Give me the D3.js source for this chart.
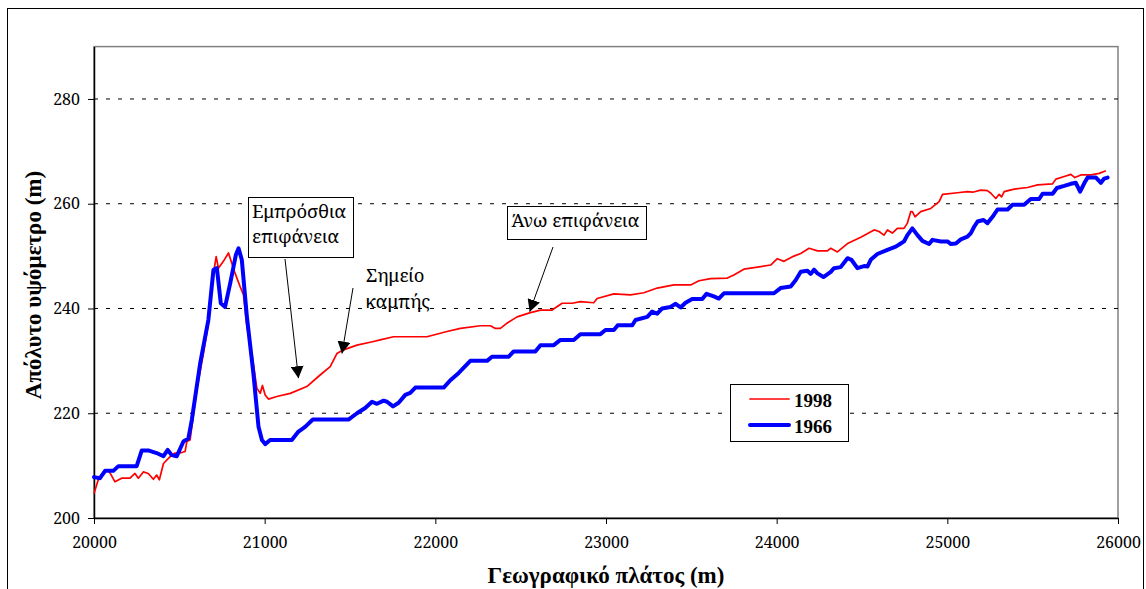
<!DOCTYPE html>
<html><head><meta charset="utf-8">
<script src="https://cdn.jsdelivr.net/npm/d3@7"></script>
<style>
body{margin:0;background:#fff;}
svg{display:block;}
</style></head>
<body><svg id="c" width="1146" height="589"></svg>
<script>
const xTicks = [20000,21000,22000,23000,24000,25000,26000];
const yTicks = [200,220,240,260,280];
const seriesNames = ["1998","1966"];
const xTitle = "Γεωγραφικό πλάτος (m)";
const yTitle = "Απόλυτο υψόμετρο (m)";

const s1998 = [[20000,204.7],[20025,207.3],[20065,209.2],[20084,209.2],[20123,206.9],[20162,207.6],[20211,207.6],[20240,208.5],[20260,207.6],[20289,208.8],[20318,208.5],[20348,207.4],[20367,208.2],[20383,207.3],[20407,210.4],[20446,211.7],[20475,212.4],[20504,212.4],[20534,212.7],[20544,214.6],[20563,214.9],[20602,224.4],[20641,231.4],[20670,237.2],[20690,244.8],[20716,249.9],[20729,247.7],[20758,249.0],[20788,250.6],[20798,249.6],[20827,246.7],[20856,244.2],[20876,242.6],[20896,236.5],[20925,231.4],[20954,224.8],[20974,223.8],[20987,225.3],[21003,223.5],[21022,222.7],[21071,223.2],[21150,223.8],[21247,225.1],[21325,227.3],[21384,228.9],[21423,231.4],[21462,232.1],[21541,233.0],[21638,233.7],[21677,234.0],[21755,234.6],[21951,234.6],[22068,235.6],[22147,236.2],[22264,236.7],[22323,236.7],[22352,236.2],[22381,236.2],[22420,237.2],[22479,238.4],[22557,239.2],[22616,239.7],[22684,239.7],[22743,241.0],[22802,241.0],[22850,241.3],[22928,241.1],[22948,241.9],[23046,242.8],[23144,242.6],[23222,243.0],[23300,243.9],[23398,244.5],[23496,244.5],[23545,245.3],[23613,245.7],[23711,245.8],[23749,246.4],[23808,247.5],[23887,247.9],[23965,248.3],[24004,249.5],[24043,249.0],[24101,250.0],[24141,250.5],[24190,251.5],[24239,251.0],[24297,251.0],[24317,251.5],[24356,250.8],[24415,252.4],[24493,253.6],[24571,255.0],[24600,254.7],[24629,254.0],[24649,255.0],[24678,254.4],[24707,255.3],[24746,255.3],[24766,256.3],[24786,258.5],[24795,258.5],[24811,257.5],[24844,258.5],[24903,259.1],[24952,260.4],[24972,261.8],[25059,262.1],[25118,262.3],[25148,262.2],[25196,262.6],[25235,262.5],[25255,262.0],[25284,261.0],[25304,261.8],[25318,261.3],[25333,262.3],[25392,262.8],[25470,263.1],[25529,263.6],[25617,263.8],[25636,264.7],[25685,265.2],[25724,265.6],[25747,265.0],[25783,265.5],[25841,265.5],[25890,265.8],[25929,266.3]];

const s1966 = [[20000,207.8],[20035,207.6],[20065,209.0],[20113,209.0],[20143,209.9],[20250,209.9],[20280,212.9],[20318,212.9],[20367,212.4],[20407,211.8],[20432,213.0],[20455,212.0],[20485,211.8],[20524,214.6],[20553,215.2],[20573,218.7],[20622,229.5],[20670,237.8],[20700,247.4],[20720,247.7],[20743,241.0],[20768,240.3],[20798,244.8],[20831,250.2],[20847,251.5],[20866,249.3],[20896,238.4],[20934,227.6],[20964,217.4],[20984,214.9],[21003,214.1],[21032,214.9],[21159,214.9],[21198,216.5],[21237,217.4],[21282,218.8],[21491,218.8],[21541,220.0],[21589,221.0],[21629,222.2],[21658,221.8],[21697,222.4],[21717,222.2],[21752,221.3],[21785,222.0],[21824,223.5],[21853,223.9],[21883,224.9],[22049,224.9],[22088,226.3],[22137,227.7],[22205,230.0],[22303,230.0],[22332,230.8],[22430,230.8],[22459,231.8],[22586,231.8],[22616,233.0],[22694,233.0],[22733,234.0],[22811,234.0],[22850,235.1],[22967,235.1],[22997,235.9],[23046,235.9],[23069,236.8],[23154,236.8],[23173,237.8],[23242,238.4],[23270,239.4],[23300,239.0],[23329,240.0],[23378,240.3],[23408,240.9],[23437,240.2],[23466,241.1],[23505,241.8],[23564,241.8],[23589,242.8],[23632,242.3],[23661,241.9],[23691,242.9],[23984,242.9],[24023,243.9],[24082,244.2],[24111,245.4],[24141,247.0],[24180,247.2],[24199,246.6],[24219,247.4],[24239,246.7],[24274,246.0],[24317,247.0],[24336,247.7],[24375,247.9],[24415,249.6],[24438,249.3],[24473,247.7],[24512,248.1],[24532,248.0],[24551,249.3],[24590,250.4],[24649,251.2],[24698,251.8],[24727,252.4],[24746,252.8],[24766,254.0],[24795,255.3],[24825,254.0],[24854,252.9],[24893,252.3],[24913,253.1],[24962,252.8],[25001,252.8],[25021,252.3],[25050,252.4],[25079,253.2],[25118,253.7],[25138,254.4],[25157,255.6],[25177,256.6],[25212,256.9],[25235,256.3],[25265,257.5],[25294,258.9],[25353,258.9],[25382,259.8],[25450,259.8],[25489,260.9],[25538,260.9],[25558,261.9],[25617,261.9],[25642,263.0],[25685,263.4],[25724,263.8],[25753,264.0],[25778,262.3],[25802,263.9],[25822,265.0],[25871,265.0],[25900,264.0],[25919,264.8],[25939,265.0]];

// annotation texts and the data points their arrows point at
const annotations = [
  {lines:["Εμπρόσθια","επιφάνεια"], box:true, tip:[21198,226.7]},
  {lines:["Σημείο","καμπής"], box:false, tip:[21453,231.4]},
  {lines:["Άνω επιφάνεια"], box:true, tip:[22553,239.4]}
];

const svg = d3.select("#c");
const L=94, R=1118, T=46.6, B=518;
const x = d3.scaleLinear().domain([20000,26000]).range([L,R]);
const y = d3.scaleLinear().domain([200,290]).range([B,T]);
const serif = '"Noto Serif","Liberation Serif",serif';
const serifB = '"Liberation Serif","Noto Serif",serif';

// outer frame
svg.append("rect").attr("x",7.5).attr("y",8.5).attr("width",1136).attr("height",600)
  .attr("fill","none").attr("stroke","#000").attr("stroke-width",1);

// plot border (grey)
svg.append("rect").attr("x",L).attr("y",T).attr("width",R-L).attr("height",B-T)
  .attr("fill","none").attr("stroke","#808080").attr("stroke-width",1.5);

// gridlines
svg.append("g").selectAll("line").data(yTicks.filter(d=>d>200)).join("line")
  .attr("x1",L).attr("x2",R).attr("y1",d=>y(d)).attr("y2",d=>y(d))
  .attr("stroke","#000").attr("stroke-width",1).attr("stroke-dasharray","4,8");

// axes
const ya = svg.append("g").attr("transform",`translate(${L},0)`)
  .call(d3.axisLeft(y).tickValues(yTicks).tickSize(6).tickSizeOuter(0).tickPadding(8));
const xa = svg.append("g").attr("transform",`translate(0,${B})`)
  .call(d3.axisBottom(x).tickValues(xTicks).tickSize(6).tickSizeOuter(0).tickPadding(13).tickFormat(d3.format("d")));
[ya,xa].forEach(g=>{
  g.attr("font-family",null).attr("font-size",null);
  g.selectAll("path").attr("stroke","#000").attr("stroke-width",1.5);
  g.selectAll("line").attr("stroke","#000").attr("stroke-width",1);
  g.selectAll("text").style("font-family",serif).style("font-size","16px").attr("fill","#000");
});

// lines
const line = d3.line().x(d=>x(d[0])).y(d=>y(d[1]));
svg.append("path").datum(s1998).attr("d",line).attr("fill","none").attr("stroke","#ff0000").attr("stroke-width",1.7).attr("stroke-linejoin","round");
svg.append("path").datum(s1966).attr("d",line).attr("fill","none").attr("stroke","#0000ff").attr("stroke-width",4).attr("stroke-linejoin","round").attr("stroke-linecap","round");

// axis titles
svg.append("text").attr("x",606).attr("y",583).attr("text-anchor","middle")
  .style("font-family",serifB).style("font-size","23px").attr("font-weight","bold").text(xTitle);
svg.append("text").attr("transform","translate(41,285) rotate(-90)").attr("text-anchor","middle")
  .style("font-family",serifB).style("font-size","23px").attr("font-weight","bold").text(yTitle);

// arrow marker
const defs = svg.append("defs");
defs.append("marker").attr("id","ah").attr("viewBox","0 0 12 13").attr("refX",12).attr("refY",6.5)
  .attr("markerWidth",12).attr("markerHeight",13).attr("markerUnits","userSpaceOnUse").attr("orient","auto")
  .append("path").attr("d","M0,0 L12,6.5 L0,13 Z").attr("fill","#000");

// annotation layout (px)
const annLayout = [
  {bx:248, by:197, bw:105, bh:60, tx:252, ty:[218,243], from:[285,259]},
  {bx:0, by:0, bw:0, bh:0, tx:366, ty:[282,308], from:[353,288]},
  {bx:507, by:206, bw:139, bh:33, tx:511.5, ty:[227], from:[553,247]}
];
annotations.forEach((a,i)=>{
  const p = annLayout[i];
  if(a.box){
    svg.append("rect").attr("x",p.bx+0.5).attr("y",p.by+0.5).attr("width",p.bw).attr("height",p.bh)
      .attr("fill","#fff").attr("stroke","#000").attr("stroke-width",1);
  }
  a.lines.forEach((t,j)=>{
    svg.append("text").attr("x",p.tx).attr("y",p.ty[j]).style("font-family",serif).style("font-size","18.5px").attr("fill","#000").text(t);
  });
  svg.append("line").attr("x1",p.from[0]).attr("y1",p.from[1])
    .attr("x2",x(a.tip[0])).attr("y2",y(a.tip[1]))
    .attr("stroke","#000").attr("stroke-width",1).attr("marker-end","url(#ah)");
});

// legend
const lg = svg.append("g");
lg.append("rect").attr("x",730.5).attr("y",384.5).attr("width",118).attr("height",57)
  .attr("fill","#fff").attr("stroke","#000").attr("stroke-width",1);
const lc = ["#ff0000","#0000ff"], lw=[1.7,4];
seriesNames.forEach((n,i)=>{
  const yy = 399 + i*26;
  lg.append("line").attr("x1",750).attr("x2",789).attr("y1",yy).attr("y2",yy)
    .attr("stroke",lc[i]).attr("stroke-width",lw[i]).attr("stroke-linecap","round");
  lg.append("text").attr("x",794).attr("y",yy+8).style("font-family",serifB).style("font-size","19px").attr("font-weight","bold").text(n);
});
</script></body></html>
